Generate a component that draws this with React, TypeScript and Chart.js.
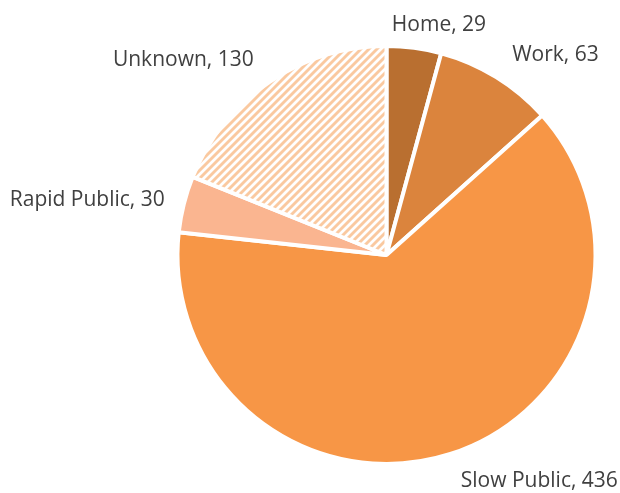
import React, { useEffect, useRef } from "react";
import { Chart, registerables } from "chart.js";

Chart.register(...registerables);

const categories = ["Home", "Work", "Slow Public", "Rapid Public", "Unknown"];
const values = [29, 63, 436, 30, 130];
const colors = ["#B96F30", "#DB843D", "#F79646", "#FAB590", "hatch"];

function makeHatch(): CanvasPattern | string {
  const s = 8;
  const c = document.createElement("canvas");
  c.width = s;
  c.height = s;
  const ctx = c.getContext("2d");
  if (!ctx) return "#FBCDA8";
  ctx.fillStyle = "#FFFFFF";
  ctx.fillRect(0, 0, s, s);
  for (let py = 0; py < s; py++) {
    for (let px = 0; px < s; px++) {
      const m = (px + py) % s;
      if (m < 3) {
        ctx.fillStyle = "#FAC9A0";
        ctx.fillRect(px, py, 1, 1);
      } else if (m === 3) {
        ctx.fillStyle = "#FCE2CC";
        ctx.fillRect(px, py, 1, 1);
      } else if (m === 7) {
        ctx.fillStyle = "#FCE2CC";
        ctx.fillRect(px, py, 1, 1);
      }
    }
  }
  const p = ctx.createPattern(c, "repeat");
  return p || "#FBCDA8";
}

// label placement relative to the outer edge point at each slice's mid-angle
const labelNudge: { align: CanvasTextAlign; dx: number; dy: number }[] = [
  { align: "left", dx: -22, dy: -19 },
  { align: "left", dx: 17, dy: -18 },
  { align: "left", dx: 11, dy: 35 },
  { align: "right", dx: -21, dy: 1.5 },
  { align: "right", dx: -17, dy: -17 },
];

const labelPlugin = {
  id: "outsideLabels",
  afterDatasetsDraw(chart: any) {
    const meta = chart.getDatasetMeta(0);
    const ctx = chart.ctx;
    ctx.save();
    ctx.font = '21px "Open Sans"';
    ctx.fillStyle = "#404040";
    ctx.textBaseline = "alphabetic";
    meta.data.forEach((arc: any, i: number) => {
      const { x, y, startAngle, endAngle, outerRadius } = arc.getProps(
        ["x", "y", "startAngle", "endAngle", "outerRadius"],
        true
      );
      const mid = (startAngle + endAngle) / 2;
      const r = outerRadius - 2;
      const ex = x + Math.cos(mid) * r;
      const ey = y + Math.sin(mid) * r;
      const n = labelNudge[i];
      ctx.textAlign = n.align;
      ctx.fillText(`${categories[i]}, ${values[i]}`, ex + n.dx, ey + n.dy);
    });
    ctx.restore();
  },
};

export default function App() {
  const ref = useRef<HTMLCanvasElement>(null);
  useEffect(() => {
    document.body.style.margin = "0";
    if (!ref.current) return;
    const hatch = makeHatch();
    const bg = colors.map((c) => (c === "hatch" ? hatch : c));
    const chart = new Chart(ref.current, {
      type: "pie",
      data: {
        labels: categories,
        datasets: [
          {
            data: values,
            backgroundColor: bg as any,
            borderColor: "#FFFFFF",
            borderWidth: 4,
          },
        ],
      },
      options: {
        responsive: false,
        animation: false,
        layout: { padding: { top: 44, bottom: 27, left: 170, right: 17 } },
        plugins: {
          legend: { display: false },
          tooltip: { enabled: false },
        },
      },
      plugins: [labelPlugin],
    });
    return () => chart.destroy();
  }, []);
  return (
    <div style={{ width: 620, height: 493, background: "#fff" }}>
      <canvas ref={ref} width={620} height={493} />
    </div>
  );
}
